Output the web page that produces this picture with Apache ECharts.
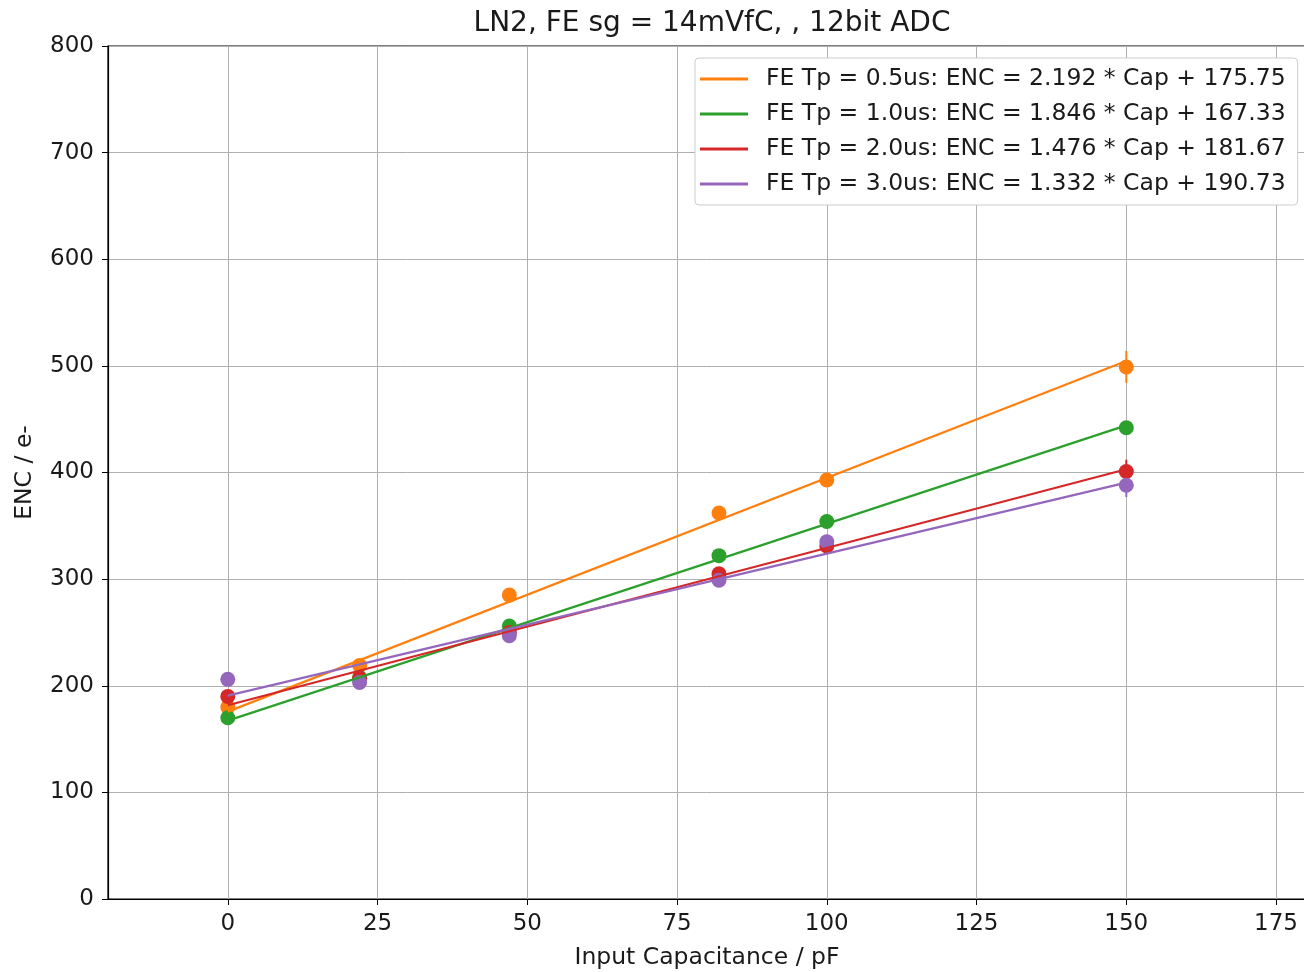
<!DOCTYPE html>
<html>
<head>
<meta charset="utf-8">
<script src="https://cdn.jsdelivr.net/npm/echarts@6/dist/echarts.min.js"></script>
<style>
  html, body { margin: 0; padding: 0; background: #fff; }
  #chart { width: 1304px; height: 972px; }
</style>
</head>
<body>
<div id="chart"></div>
<script>
// 输入电容 (pF)
const caps = [0, 22, 47, 82, 100, 150];
const xTicks = [0, 25, 50, 75, 100, 125, 150, 175];

const names = ['FE Tp = 0.5us', 'FE Tp = 1.0us', 'FE Tp = 2.0us', 'FE Tp = 3.0us'];
const colors = ['#ff7f0e', '#2ca02c', '#d62728', '#9467bd'];
const slopes = ['2.192', '1.846', '1.476', '1.332'];
const intercepts = ['175.75', '167.33', '181.67', '190.73'];

// measured ENC
const enc05 = [180, 219, 285, 362, 393, 499];
const enc10 = [170, 208, 256, 322, 354, 442];
const enc20 = [190, 207, 250, 305, 331, 401];
const enc30 = [206, 203, 247, 299, 335, 388];

// error (+/-)
const err05 = [3, 3, 3, 3, 3, 15];
const err10 = [3, 3, 3, 3, 3, 4];
const err20 = [3, 3, 3, 3, 3, 11];
const err30 = [3, 3, 3, 3, 3, 11];

// fit line values at Cap = 0 and Cap = 150
const fitX = [0, 150];
const fit05 = [175.75, 504.55];
const fit10 = [167.33, 444.23];
const fit20 = [181.67, 403.07];
const fit30 = [190.73, 390.53];

const encs = [enc05, enc10, enc20, enc30];
const errs = [err05, err10, err20, err30];
const fits = [fit05, fit10, fit20, fit30];

const FONT = '"DejaVu Sans", sans-serif';
const myChart = echarts.init(document.getElementById('chart'));

const series = [];
names.forEach((n, i) => {
  const label = `${n}: ENC = ${slopes[i]} * Cap + ${intercepts[i]}`;
  series.push({
    name: n + ' err',
    type: 'custom',
    data: caps.map((c, j) => [c, encs[i][j] - errs[i][j], encs[i][j] + errs[i][j]]),
    renderItem: (params, api) => {
      const p1 = api.coord([api.value(0), api.value(1)]);
      const p2 = api.coord([api.value(0), api.value(2)]);
      return {
        type: 'line',
        shape: { x1: p1[0], y1: p1[1], x2: p2[0], y2: p2[1] },
        style: { stroke: colors[i], lineWidth: 2 },
      };
    },
    z: 3,
    silent: true,
  });
  series.push({
    name: n + ' pts',
    type: 'scatter',
    data: caps.map((c, j) => [c, encs[i][j]]),
    symbolSize: 15,
    itemStyle: { color: colors[i], opacity: 1 },
    z: 3,
    silent: true,
  });
  series.push({
    name: label,
    type: 'line',
    data: fitX.map((c, j) => [c, fits[i][j]]),
    showSymbol: false,
    lineStyle: { color: colors[i], width: 2.2 },
    itemStyle: { color: colors[i] },
    z: 4,
    silent: true,
  });
});

const option = {
  animation: false,
  backgroundColor: '#fff',
  title: {
    text: 'LN2, FE sg = 14mVfC, , 12bit ADC',
    left: 707,
    textAlign: 'center',
    top: 5,
    textStyle: { fontFamily: FONT, fontSize: 28, fontWeight: 'normal', color: '#1a1a1a' },
  },
  legend: {
    data: series.filter((s) => s.type === 'line').map((s) => s.name),
    orient: 'vertical',
    left: 695,
    top: 58,
    padding: [9, 12, 9, 5],
    itemGap: 11,
    itemWidth: 48,
    itemHeight: 3,
    icon: 'rect',
    backgroundColor: '#fff',
    borderColor: '#cccccc',
    borderWidth: 1,
    borderRadius: 4,
    textStyle: { fontFamily: FONT, fontSize: 23.5, color: '#1a1a1a', padding: [0, 0, 0, 13] },
  },
  grid: {
    left: 108,
    right: -2,
    top: 46,
    bottom: 73,
    show: true,
    borderColor: '#000',
    borderWidth: 1.2,
    containLabel: false,
    outerBoundsMode: 'none',
  },
  xAxis: {
    type: 'value',
    min: -20,
    max: 180,
    name: 'Input Capacitance / pF',
    nameLocation: 'middle',
    nameGap: 47,
    nameTextStyle: { fontFamily: FONT, fontSize: 23.5, color: '#1a1a1a' },
    axisLine: { show: true, onZero: false, lineStyle: { color: '#000', width: 1.2 } },
    axisTick: { show: true, length: 6, customValues: xTicks, lineStyle: { color: '#000' } },
    axisLabel: {
      customValues: xTicks,
      fontFamily: FONT,
      fontSize: 23,
      color: '#1a1a1a',
      margin: 14,
    },
    splitLine: { show: true, lineStyle: { color: '#b0b0b0', width: 1 } },
  },
  yAxis: {
    type: 'value',
    min: 0,
    max: 800,
    interval: 100,
    name: 'ENC / e-',
    nameLocation: 'middle',
    nameGap: 71,
    nameTextStyle: { fontFamily: FONT, fontSize: 23.5, color: '#1a1a1a' },
    axisLine: { show: true, onZero: false, lineStyle: { color: '#000', width: 1.2 } },
    axisTick: { show: true, length: 6, lineStyle: { color: '#000' } },
    axisLabel: { fontFamily: FONT, fontSize: 23, color: '#1a1a1a', margin: 14 },
    splitLine: { show: true, lineStyle: { color: '#b0b0b0', width: 1 } },
  },
  series: series,
};

option && myChart.setOption(option);
</script>
</body>
</html>
